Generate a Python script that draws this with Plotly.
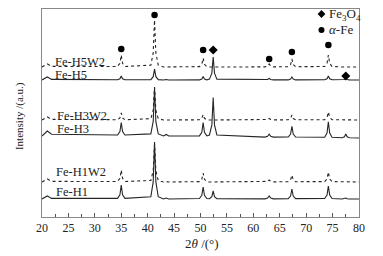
import plotly.graph_objects as go

# 2theta grid (degrees)
two_theta = [20,
             20.4, 20.8, 21.0, 21.2, 21.8,
             34.3, 34.75, 35.0, 35.25, 35.7,
             40.6, 41.05, 41.3, 41.55, 42.0,
             43.0, 43.5, 44.0,
             49.8, 50.25, 50.5, 50.75, 51.2,
             51.7, 52.15, 52.4, 52.65, 53.1,
             62.2, 62.7, 63.0, 63.3, 63.8,
             66.6, 67.05, 67.3, 67.55, 68.0,
             73.5, 73.95, 74.2, 74.45, 74.9,
             76.8, 77.25, 77.5, 77.75, 78.2,
             80]

fe_h5w2 = [150,
           150.9, 152.4, 153, 152.4, 150.6,
           150.5, 153.6, 162, 153.6, 150.5,
           151.9, 164.1, 197, 164.1, 151.9,
           150, 150, 150,
           150.4, 152.7, 159, 152.7, 150.4,
           150, 150, 150, 150, 150,
           150.1, 150.9, 153, 150.9, 150.1,
           150.3, 152.4, 158, 152.4, 150.3,
           150.5, 153.6, 162, 153.6, 150.5,
           150, 150, 150, 150, 150,
           150]

fe_h5 = [137,
         137.9, 139.4, 140, 139.4, 137.6,
         137.2, 138.2, 141, 138.2, 137.2,
         137.4, 140.3, 148, 140.3, 137.4,
         137, 137.5, 137,
         137.1, 138, 140.5, 138, 137.1,
         137.9, 143.9, 160, 143.9, 137.9,
         137.1, 137.5, 138.5, 137.5, 137.1,
         137.1, 137.9, 140, 137.9, 137.1,
         137.2, 138.2, 141, 138.2, 137.2,
         137.1, 137.5, 138.5, 137.5, 137.1,
         137]

fe_h3w2 = [97,
           97.9, 99.4, 100, 99.4, 97.6,
           97.3, 99.1, 104, 99.1, 97.3,
           98.3, 106.9, 130, 106.9, 98.3,
           97, 97, 97,
           97.2, 98.7, 102.5, 98.7, 97.2,
           97, 97, 97, 97, 97,
           97.1, 97.5, 98.5, 97.5, 97.1,
           97.2, 98.5, 102, 98.5, 97.2,
           97.3, 99.4, 105, 99.4, 97.3,
           97, 97, 97, 97, 97,
           97]

fe_h3 = [81,
         83.2, 85.2, 86, 85.2, 82.8,
         82, 85.4, 94.5, 85.4, 82,
         83.1, 95.6, 129.2, 95.6, 83.1,
         81, 82.5, 81,
         81.1, 84.7, 94.5, 84.7, 81.1,
         82, 92.1, 119.4, 92.1, 82,
         79.9, 80.7, 82.8, 80.7, 79.9,
         80, 82.9, 90.6, 82.9, 80,
         79.8, 84, 95.2, 84, 79.8,
         79.3, 80.3, 83.1, 80.3, 79.3,
         79]

fe_h1w2 = [35,
           35.9, 37.4, 38, 37.4, 35.6,
           35.5, 38.6, 47, 38.6, 35.5,
           36.5, 46.4, 73, 46.4, 36.5,
           35, 35.5, 35,
           35.4, 37.7, 44, 37.7, 35.4,
           35, 35, 35, 35, 35,
           35.1, 35.6, 37, 35.6, 35.1,
           35.3, 37.1, 42, 37.1, 35.3,
           35.4, 38, 45, 38, 35.4,
           35, 35, 35, 35, 35,
           35]

fe_h1 = [18,
         18.9, 20.4, 21, 20.4, 18.6,
         18.6, 22.2, 32, 22.2, 18.6,
         20.3, 35.1, 75, 35.1, 20.3,
         18, 19, 18,
         18.5, 21.6, 30, 21.6, 18.5,
         18.3, 20.4, 26, 20.4, 18.3,
         18.1, 18.9, 21, 18.9, 18.1,
         18.4, 21, 28, 21, 18.4,
         18.5, 21.9, 31, 21.9, 18.5,
         18, 18.3, 19, 18.3, 18,
         18]

# phase markers
alpha_fe_x = [35, 41.3, 50.5, 63, 67.3, 74.2]
alpha_fe_y = [168, 202, 167, 158, 165, 172]
fe3o4_x = [52.4, 77.5]
fe3o4_y = [167, 141]

series_names = ["Fe-H5W2", "Fe-H5", "Fe-H3W2", "Fe-H3", "Fe-H1W2", "Fe-H1"]
series_vals = [fe_h5w2, fe_h5, fe_h3w2, fe_h3, fe_h1w2, fe_h1]
series_dash = ["dot", "solid", "dot", "solid", "dot", "solid"]
label_pos = [(22.1, 155), (22.1, 142), (22.5, 101.5), (22.5, 88.5), (22.3, 45), (22.3, 25)]

FONT = "Liberation Serif"
LINE = "#262626"

fig = go.Figure()
for name, vals, dash in zip(series_names, series_vals, series_dash):
    fig.add_trace(go.Scatter(x=two_theta, y=vals, mode="lines", name=name,
                             line=dict(color=LINE, width=1.1, dash=dash),
                             showlegend=False))

fig.add_trace(go.Scatter(x=alpha_fe_x, y=alpha_fe_y, mode="markers",
                         marker=dict(symbol="circle", size=6.5, color="black"),
                         showlegend=False))
fig.add_trace(go.Scatter(x=fe3o4_x, y=fe3o4_y, mode="markers",
                         marker=dict(symbol="diamond", size=7, color="black"),
                         showlegend=False))
# legend markers
fig.add_trace(go.Scatter(x=[72.9, 72.9], y=[203, 187], mode="markers",
                         marker=dict(symbol=["diamond", "circle"], size=6, color="black"),
                         showlegend=False))

annotations = []
for name, (lx, ly) in zip(series_names, label_pos):
    annotations.append(dict(x=lx, y=ly, xref="x", yref="y", text=name,
                            showarrow=False, xanchor="left", yanchor="middle",
                            font=dict(family=FONT, size=12.5, color="#222")))
annotations.append(dict(x=73.9, y=203, xref="x", yref="y", text="Fe<sub>3</sub>O<sub>4</sub>",
                        showarrow=False, xanchor="left", yanchor="middle",
                        font=dict(family=FONT, size=13, color="#222")))
annotations.append(dict(x=73.9, y=188, xref="x", yref="y", text="<i>α</i>-Fe",
                        showarrow=False, xanchor="left", yanchor="middle",
                        font=dict(family=FONT, size=13, color="#222")))
annotations.append(dict(x=0.505, y=-0.125, xref="paper", yref="paper", text="2<i>θ</i> /(°)",
                        showarrow=False, xanchor="center", yanchor="middle",
                        font=dict(family=FONT, size=13, color="#222")))
annotations.append(dict(x=-0.069, y=0.486, xref="paper", yref="paper", text="Intensity /(a.u.)",
                        showarrow=False, xanchor="center", yanchor="middle", textangle=-90,
                        font=dict(family=FONT, size=11, color="#222")))

fig.update_layout(
    width=383, height=256,
    margin=dict(l=42, r=24, t=9, b=39),
    paper_bgcolor="white", plot_bgcolor="white",
    annotations=annotations,
    xaxis=dict(range=[20, 80], dtick=5, tick0=20, ticks="inside", ticklen=4,
               tickcolor="#555", showline=True, linecolor="#888", linewidth=1,
               mirror=True, showgrid=False, zeroline=False,
               tickfont=dict(family=FONT, size=12, color="#222"),
               minor=dict(dtick=2.5, ticks="inside", ticklen=3, tickcolor="#555", showgrid=False)),
    yaxis=dict(range=[0, 208], showticklabels=False, ticks="", showline=True,
               linecolor="#888", linewidth=1, mirror=True, showgrid=False, zeroline=False),
)

fig.write_html("out.html", config={"displayModeBar": False},
               post_script="document.body.style.margin='0';document.body.style.padding='0';document.body.style.overflow='hidden';")
